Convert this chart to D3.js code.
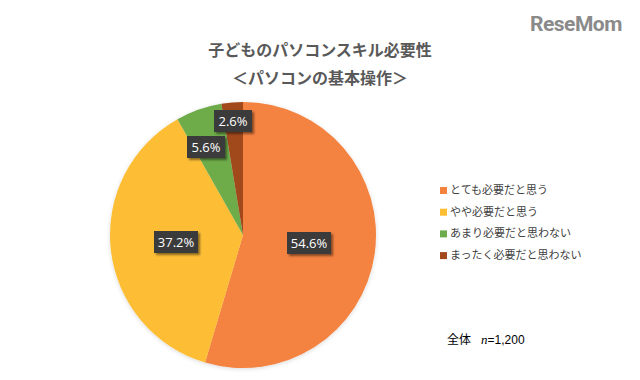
<!DOCTYPE html>
<html><head><meta charset="utf-8">
<script src="https://cdn.jsdelivr.net/npm/d3@7"></script>
<style>body{margin:0;background:#fff;}svg{display:block;font-family:"Noto Sans CJK JP","Noto Sans",sans-serif;}</style>
</head><body>
<svg id="c" width="640" height="380"></svg>
<script>
const categories = ["とても必要だと思う","やや必要だと思う","あまり必要だと思わない","まったく必要だと思わない"];
const values = [54.6, 37.2, 5.6, 2.6];
const labels = ["54.6%","37.2%","5.6%","2.6%"];
const colors = ["#F4823F","#FDBE34","#6DAC4A","#A24A1E"];
const titleLines = ["子どものパソコンスキル必要性","＜パソコンの基本操作＞"];
const note = ["全体","n","=1,200"];

const svg = d3.select("#c");
const defs = svg.append("defs");
const f = defs.append("filter").attr("id","sh").attr("x","-20%").attr("y","-20%").attr("width","150%").attr("height","160%");
f.append("feDropShadow").attr("dx",2).attr("dy",2).attr("stdDeviation",1.2).attr("flood-color","#000").attr("flood-opacity",0.45);
const pf = defs.append("filter").attr("id","ps").attr("x","-10%").attr("y","-10%").attr("width","120%").attr("height","120%");
pf.append("feDropShadow").attr("dx",0).attr("dy",1).attr("stdDeviation",2).attr("flood-color","#000").attr("flood-opacity",0.15);

// logo
svg.append("text").attr("x",530).attr("y",31).attr("font-family","Roboto, 'DejaVu Sans', sans-serif")
  .attr("font-size",21).attr("font-weight","bold").attr("fill","#8a8a8a").attr("letter-spacing",-0.5).text("ReseMom");

// title
svg.selectAll("text.t").data(titleLines).join("text").attr("class","t")
  .attr("x",320).attr("y",(d,i)=>56+i*27.5).attr("text-anchor","middle")
  .attr("font-size",16).attr("font-weight","bold").attr("fill","#595959").text(d=>d);

const cx=243, cy=235, r=133;
const pie = d3.pie().sort(null).value(d=>d)(values);
const arc = d3.arc().innerRadius(0).outerRadius(r);
const g = svg.append("g").attr("transform",`translate(${cx},${cy})`);
g.append("g").attr("filter","url(#ps)").selectAll("path").data(pie).join("path")
  .attr("d",arc).attr("fill",(d,i)=>colors[i]);

// labels
const labelArc = d3.arc().innerRadius(r*0.5).outerRadius(r*0.5);
const manual = [[66,8],[-67,7],[-37,-88],[-10,-114]];
const lg = g.selectAll("g.l").data(pie).join("g").attr("class","l")
  .attr("transform",(d,i)=>{
    let p = manual[i] || labelArc.centroid(d);
    return `translate(${p[0]},${p[1]})`;
  });
lg.append("rect").attr("x",(d,i)=>i<2?-22:-19).attr("y",-11).attr("width",(d,i)=>i<2?44:38).attr("height",22)
  .attr("fill","#3b3b3b").attr("filter","url(#sh)");
lg.append("text").attr("text-anchor","middle").attr("dy","0.36em").attr("font-size",13)
  .attr("font-family","'Open Sans','Noto Sans',sans-serif").attr("fill","#fff").text((d,i)=>labels[i]);

// legend
const leg = svg.append("g").attr("transform","translate(440,190)");
const rows = leg.selectAll("g").data(categories).join("g").attr("transform",(d,i)=>`translate(0,${i*21.7})`);
rows.append("rect").attr("x",0).attr("y",-3).attr("width",7).attr("height",7).attr("fill",(d,i)=>colors[i]);
rows.append("text").attr("x",10).attr("y",0).attr("dy","0.35em").attr("font-size",11).attr("fill","#404040").text(d=>d);

// note
const nt = svg.append("text").attr("x",447).attr("y",344).attr("font-size",12).attr("fill","#000");
nt.append("tspan").text(note[0]);
nt.append("tspan").attr("dx",10).attr("font-style","italic").attr("font-family","'Liberation Serif',serif").attr("font-size",13).text(note[1]);
nt.append("tspan").attr("font-family","'Liberation Sans',sans-serif").text(note[2]);
</script>
</body></html>
